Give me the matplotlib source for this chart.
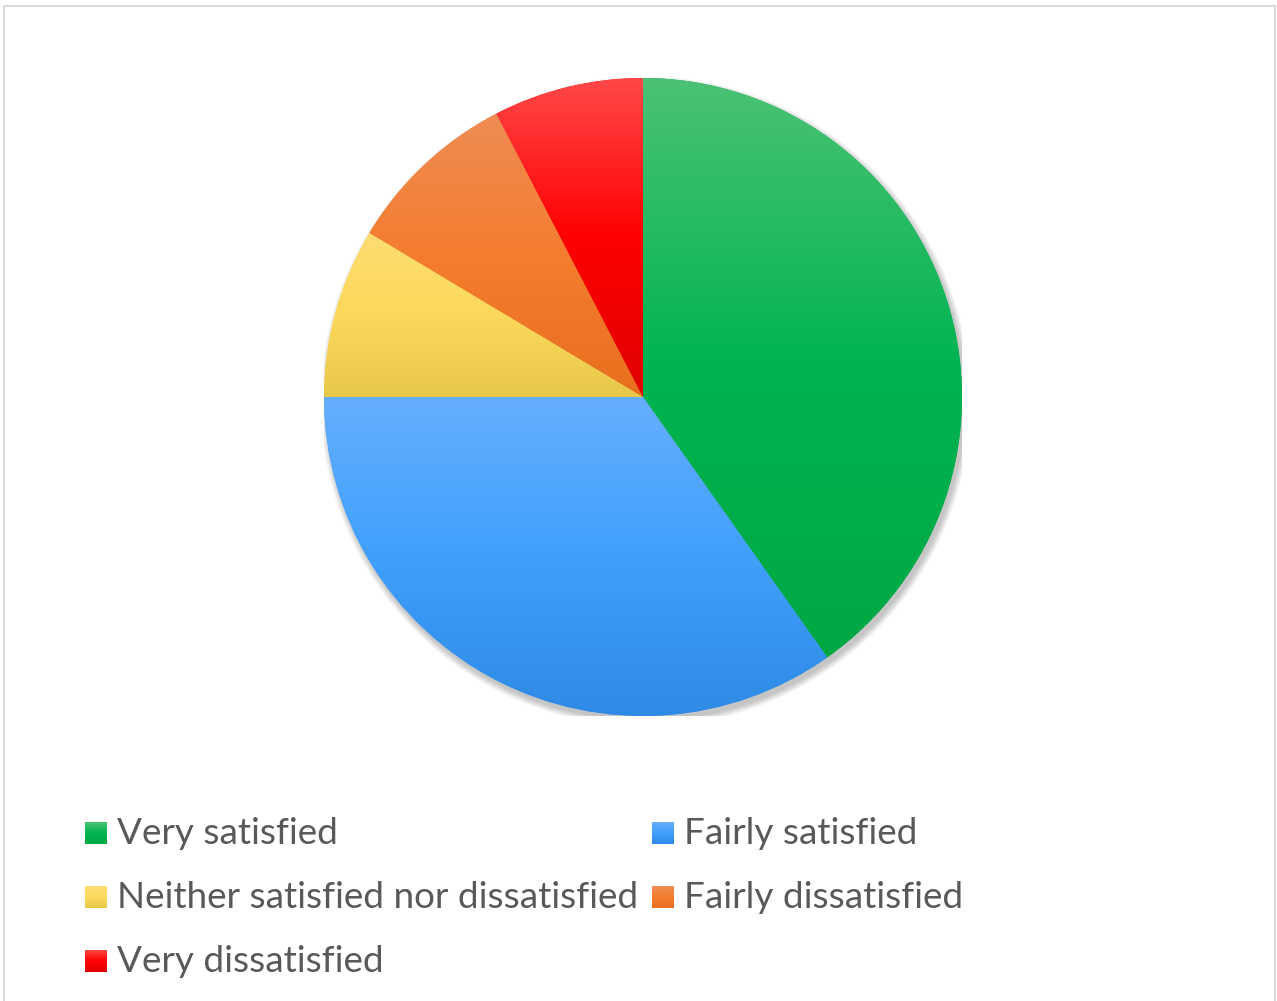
import numpy as np
import matplotlib
matplotlib.use("Agg")
import matplotlib.pyplot as plt
from matplotlib.patches import Rectangle, Circle
from matplotlib.colors import to_rgb

# ---- data ----
categories = ["Very satisfied", "Fairly satisfied",
              "Neither satisfied nor dissatisfied", "Fairly dissatisfied",
              "Very dissatisfied"]
values = [40.2, 34.8, 8.6, 8.8, 7.6]

# gradient colours (top, middle, bottom) per category
grad_top = ["#4CC274", "#66AEFF", "#FDDD72", "#EF8C55", "#FF4848"]
grad_mid = ["#00B451", "#3FA0FC", "#FCD95A", "#F47D2E", "#FF0000"]
grad_bot = ["#00A843", "#2E8AE5", "#E8C84A", "#E86F1E", "#E00000"]

W, H = 1277, 1001
DPI = 100
fig = plt.figure(figsize=(W / DPI, H / DPI), dpi=DPI)
fig.patch.set_facecolor("white")


def grad_array(top, mid, bot, n=256):
    t = np.linspace(0, 1, n)
    c0, c1, c2 = np.array(to_rgb(top)), np.array(to_rgb(mid)), np.array(to_rgb(bot))
    out = np.empty((n, 1, 3))
    for i, tt in enumerate(t):
        if tt < 0.5:
            out[i, 0] = c0 + (c1 - c0) * (tt / 0.5)
        else:
            out[i, 0] = c1 + (c2 - c1) * ((tt - 0.5) / 0.5)
    return out


def fill_gradient(ax, patch, top, mid, bot):
    ext = patch.get_path().transformed(patch.get_patch_transform()).get_extents()
    im = ax.imshow(grad_array(top, mid, bot), extent=[ext.x0, ext.x1, ext.y0, ext.y1],
                   origin="upper", aspect="auto", interpolation="bilinear",
                   zorder=patch.get_zorder() + 0.5)
    im.set_clip_path(patch)
    return im


# ---- pie axes ----
cx, cy, R = 643, 397, 319
ax = fig.add_axes([(cx - R) / W, (H - cy - R) / H, 2 * R / W, 2 * R / H])
ax.axis("off")

# soft shadow
for k in range(10):
    ax.add_patch(Circle((0.008, -0.014), 1.0 + k * 0.0022, color="black",
                        alpha=0.025, lw=0, zorder=0))

wedges, _ = ax.pie(values, startangle=90, counterclock=False, radius=1.0,
                   colors=grad_mid, wedgeprops=dict(linewidth=0, edgecolor="none"))
for w in wedges:
    w.set_zorder(2)
for w, t, m, b in zip(wedges, grad_top, grad_mid, grad_bot):
    fill_gradient(ax, w, t, m, b)
ax.set_xlim(-1, 1)
ax.set_ylim(-1, 1)
ax.set_aspect("equal")

# ---- overlay axes in pixel space for legend and border ----
ov = fig.add_axes([0, 0, 1, 1])
ov.set_xlim(0, W)
ov.set_ylim(H, 0)
ov.axis("off")
ov.patch.set_alpha(0)

# chart border
ov.add_patch(Rectangle((4, 6), 1271, 1010, fill=False, edgecolor="#D9D9D9", lw=1.5))

# legend
font = "Lato"
text_color = "#595959"
col_x = [85, 652]
row_y = [833, 897, 961]
msize = 22
text_gap = 10

# fit font size so widest label spans ~522 px
renderer = fig.canvas.get_renderer()
probe = ov.text(0, 0, categories[2], fontsize=20, family=font)
wpx = probe.get_window_extent(renderer).width
probe.remove()
fsize = 20 * 522 / wpx

for i, cat in enumerate(categories):
    x = col_x[i % 2]
    y = row_y[i // 2]
    rect = Rectangle((x, y - msize / 2), msize, msize, facecolor=grad_mid[i],
                     edgecolor="none", zorder=2)
    ov.add_patch(rect)
    ext_y0, ext_y1 = y + msize / 2, y - msize / 2
    im = ov.imshow(grad_array(grad_top[i], grad_mid[i], grad_bot[i]),
                   extent=[x, x + msize, ext_y0, ext_y1], origin="upper",
                   aspect="auto", zorder=3)
    im.set_clip_path(rect)
    ov.text(x + msize + text_gap, y + 11, cat, fontsize=fsize, family=font,
            color=text_color, va="baseline", ha="left")

ov.set_xlim(0, W)
ov.set_ylim(H, 0)

fig.savefig("out.png", dpi=DPI, facecolor="white")
